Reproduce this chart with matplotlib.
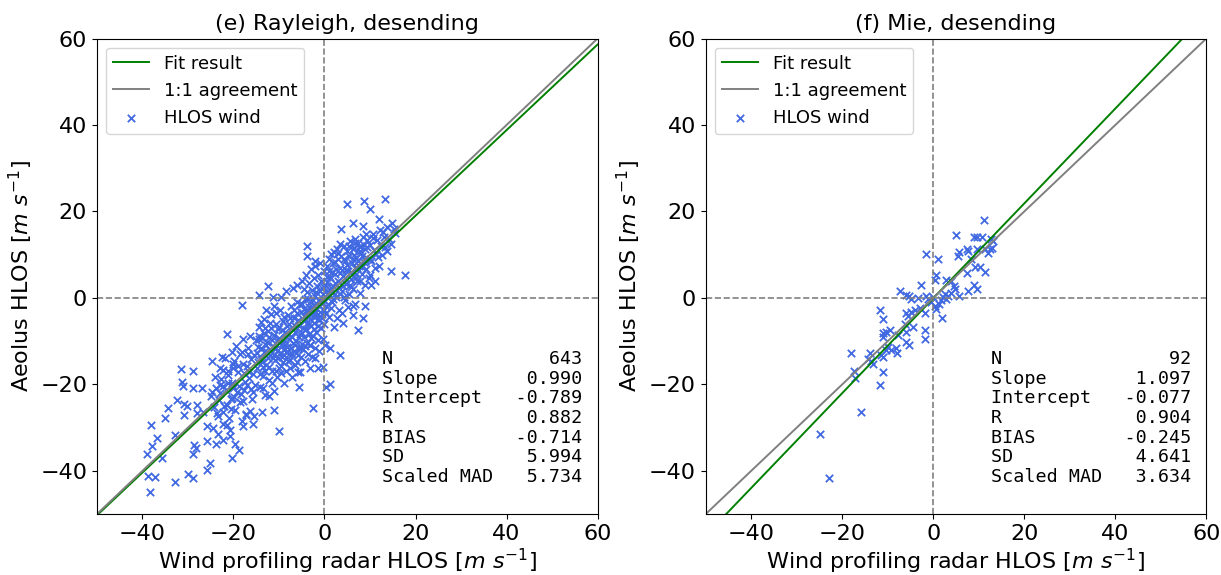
import numpy as np
import matplotlib
matplotlib.use("Agg")
import matplotlib.pyplot as plt

# fit statistics as printed on the panels
ray_stats = [("N", "643"), ("Slope", "0.990"), ("Intercept", "-0.789"), ("R", "0.882"),
             ("BIAS", "-0.714"), ("SD", "5.994"), ("Scaled MAD", "5.734")]
mie_stats = [("N", "92"), ("Slope", "1.097"), ("Intercept", "-0.077"), ("R", "0.904"),
             ("BIAS", "-0.245"), ("SD", "4.641"), ("Scaled MAD", "3.634")]
ray_slope, ray_intercept = 0.990, -0.789
mie_slope, mie_intercept = 1.097, -0.077

# Rayleigh points (radar, aeolus), outliers first then the core
ray_pts = [
    (5.0, 21.8), (8.7, 22.5), (13.3, 22.8), (10.1, 20.5), (11.9, 18.3), (14.9, 17.4), (6.3, 17.4),
    (8.5, 16.6), (3.7, 15.9), (9.2, 14.7), (12.9, 15.3), (15.5, 14.9), (6.7, 13.6), (10.7, 13.9),
    (6.3, 11.3), (7.8, 12.0), (13.8, 10.9), (11.4, 10.1), (9.9, 9.0), (14.6, 6.3), (17.7, 5.3),
    (10.3, 3.0), (8.9, -1.8), (6.3, -1.8), (8.4, -4.7), (7.4, -7.5), (4.1, -5.7), (3.4, -13.1),
    (1.2, -11.5), (1.2, -20.0), (0.3, -20.5), (-2.5, -25.5), (-3.8, 11.9), (-3.8, 9.6), (-2.1, 8.6),
    (-12.4, 2.7), (-14.4, 0.7), (-11.3, 0.2), (-18.2, -1.6), (-21.5, -8.3), (-16.4, -8.7),
    (-24.8, -14.6), (-20.4, -12.6), (-22.6, -13.6), (-31.6, -16.5), (-29.0, -17.0), (-31.4, -19.4),
    (-31.2, -20.3), (-28.9, -20.8), (-27.0, -20.8), (-32.4, -23.6), (-30.9, -24.6), (-34.4, -25.4),
    (-35.1, -27.8), (-30.9, -27.0), (-28.1, -26.7), (-32.9, -31.6), (-38.2, -29.5), (-36.7, -32.4),
    (-39.1, -36.2), (-37.8, -34.3), (-35.8, -37.0), (-38.8, -41.2), (-37.2, -41.4), (-38.4, -44.8),
    (-32.9, -42.6), (-30.0, -40.8), (-29.0, -41.6), (-25.9, -39.9), (-25.2, -38.2), (-29.0, -36.2),
    (-28.3, -34.7), (-28.6, -34.0), (-25.9, -33.2), (-23.9, -33.8), (-22.3, -32.8), (-20.8, -32.0),
    (-20.4, -37.0), (-19.7, -33.9), (-18.8, -35.1), (-17.9, -29.7), (-15.8, -29.2), (-13.8, -26.4),
    (-11.1, -25.9), (-10.1, -30.7), (-17.3, -27.0), (-21.5, -29.5), (-25.9, -29.7), (-26.7, -26.3),
    (-30.2, -25.0), (-28.1, -24.8), (-22.3, -26.3), (-20.4, -23.2), (-24.8, -21.7), (-23.0, -20.2),
    (-22.4, -16.7), (-21.2, -17.9), (-20.1, -15.2), (-18.2, -12.5), (-20.4, -20.2), (-16.6, -17.1),
    (-17.1, -20.2), (-15.7, -21.7), (-12.2, -22.8), (-13.5, -20.9), (-18.6, -24.1), (-5.6, -20.5),
    (-5.8, -17.1), (-3.2, -16.3), (-1.4, -16.3), (-0.3, -15.9), (-2.1, -14.0), (-3.2, -11.0),
    (0.1, -11.0), (-5.1, -11.7),
    # x between -25 and -15
    (-24.6, -30.1), (-24.2, -25.3), (-23.8, -20.9), (-23.5, -27.4), (-23.1, -23.6), (-22.7, -18.8),
    (-22.4, -29.2), (-22.0, -25.1), (-21.7, -21.4), (-21.3, -16.9), (-21.0, -27.8), (-20.6, -23.3),
    (-20.3, -19.7), (-19.9, -14.6), (-19.6, -25.9), (-19.2, -21.8), (-18.9, -17.2), (-18.5, -12.9),
    (-18.2, -28.4), (-17.8, -23.9), (-17.5, -19.4), (-17.1, -15.8), (-16.8, -11.7), (-16.4, -26.2),
    (-16.1, -21.1), (-15.7, -17.6), (-15.4, -13.3), (-15.1, -9.8), (-24.9, -22.7), (-23.3, -31.5),
    (-21.9, -13.9), (-20.8, -30.6), (-19.4, -11.2), (-18.7, -20.3), (-17.9, -9.4), (-17.3, -26.8),
    (-16.6, -18.5), (-15.9, -23.4), (-15.3, -20.1), (-24.1, -18.2), (-22.9, -22.1), (-21.5, -24.7),
    (-20.1, -16.1), (-18.0, -15.3), (-16.2, -14.1), (-15.6, -27.3), (-19.8, -22.9), (-17.6, -21.2),
    (-23.7, -26.6), (-20.5, -25.8), (-16.9, -13.0), (-17.7, -17.3), (-18.4, -22.2), (-19.1, -15.7),
    (-20.0, -20.9), (-21.2, -19.6), (-22.2, -20.4), (-23.0, -16.3),
    # x between -15 and -5
    (-14.8, -16.2), (-14.6, -11.4), (-14.4, -6.8), (-14.2, -20.7), (-14.0, -14.1), (-13.8, -9.3),
    (-13.6, -18.0), (-13.4, -12.6), (-13.2, -4.9), (-13.0, -22.4), (-12.8, -15.5), (-12.6, -10.2),
    (-12.4, -7.6), (-12.2, -19.1), (-12.0, -13.3), (-11.8, -3.8), (-11.6, -16.8), (-11.4, -11.1),
    (-11.2, -8.5), (-11.0, -21.6), (-10.8, -14.4), (-10.6, -6.1), (-10.4, -18.3), (-10.2, -12.0),
    (-10.0, -9.2), (-9.8, -2.7), (-9.6, -15.7), (-9.4, -10.6), (-9.2, -5.3), (-9.0, -19.8),
    (-8.8, -13.2), (-8.6, -7.9), (-8.4, -16.9), (-8.2, -11.4), (-8.0, -3.9), (-7.8, -9.6),
    (-7.6, -14.3), (-7.4, -1.8), (-7.2, -18.4), (-7.0, -7.1), (-6.8, -12.2), (-6.6, -4.6),
    (-6.4, -15.5), (-6.2, -9.9), (-6.0, -0.9), (-5.8, -13.1), (-5.6, -6.4), (-5.4, -17.2),
    (-5.2, -3.2), (-5.0, -10.7), (-14.9, -12.8), (-14.1, -17.5), (-13.3, -8.1), (-12.5, -13.9),
    (-11.7, -6.9), (-10.9, -11.9), (-10.1, -16.3), (-9.3, -7.4), (-8.5, -12.5), (-7.7, -6.0),
    (-6.9, -10.4), (-6.1, -14.9), (-5.3, -8.3), (-14.5, -8.7), (-13.7, -14.8), (-12.9, -11.0),
    (-12.1, -16.0), (-11.3, -14.0), (-10.5, -9.9), (-9.7, -12.7), (-8.9, -9.9), (-8.1, -14.7),
    (-7.3, -11.6), (-6.5, -8.0), (-5.7, -11.5), (-13.9, -11.6), (-12.3, -9.0), (-11.5, -19.7),
    (-10.7, -3.6), (-9.9, -6.8), (-9.1, -14.9), (-8.3, -6.4), (-7.5, -16.1), (-6.7, -2.9),
    (-5.9, -5.0), (-5.1, -13.6), (-11.9, -12.1), (-10.3, -13.8), (-8.7, -10.8), (-7.1, -9.0),
    (-6.3, -12.8), (-13.1, -17.0), (-9.5, -17.4), (-14.7, -14.9), (-14.3, -9.6), (-13.5, -15.9),
    (-13.0, -7.0), (-12.7, -12.4), (-12.0, -5.8), (-11.6, -9.7), (-11.1, -13.2), (-10.6, -16.9),
    (-10.2, -7.3), (-9.8, -10.3), (-9.4, -13.6), (-9.0, -4.4), (-8.6, -11.9), (-8.2, -8.4),
    (-7.9, -13.0), (-7.5, -4.6), (-7.1, -12.9), (-6.8, -6.2), (-6.4, -10.9), (-6.0, -3.6),
    (-5.6, -9.0), (-5.3, -1.5), (-14.0, -5.5), (-12.8, -2.9), (-11.0, -1.8), (-9.6, 0.2),
    (-8.4, 1.6), (-7.0, 2.4), (-6.0, 3.1),
    # x between -5 and 0
    (-4.9, -1.4), (-4.8, -6.9), (-4.7, -11.8), (-4.6, 2.1), (-4.5, -4.3), (-4.4, -9.1), (-4.3, -14.6),
    (-4.2, -0.2), (-4.1, -7.3), (-4.0, -3.1), (-3.9, -10.4), (-3.8, 1.3), (-3.7, -5.6), (-3.6, -12.9),
    (-3.5, -2.2), (-3.4, -8.4), (-3.3, 3.4), (-3.2, -4.8), (-3.1, -10.9), (-3.0, -0.8), (-2.9, -6.6),
    (-2.8, -13.7), (-2.7, 1.9), (-2.6, -3.6), (-2.5, -8.9), (-2.4, 4.6), (-2.3, -1.7), (-2.2, -5.9),
    (-2.1, -11.6), (-2.0, 0.5), (-1.9, -4.1), (-1.8, -7.8), (-1.7, 2.8), (-1.6, -2.6), (-1.5, -9.7),
    (-1.4, 5.3), (-1.3, -0.4), (-1.2, -5.2), (-1.1, -12.3), (-1.0, 1.6), (-0.9, -3.3), (-0.8, -7.0),
    (-0.7, 3.9), (-0.6, -1.2), (-0.5, -4.7), (-0.4, -9.4), (-0.3, 0.9), (-0.2, -2.9), (-0.1, 6.2),
    (0.0, -6.1), (-4.4, -2.5), (-3.6, -0.3), (-2.8, -2.0), (-2.0, -3.4), (-1.2, -1.9), (-0.4, -0.6),
    (-3.9, -4.0), (-2.3, -7.2), (-1.0, -4.2), (-0.6, 2.4), (-4.9, -8.1), (-4.6, -5.4),
    (-4.2, -11.2), (-3.8, -2.9), (-3.4, -6.0), (-3.0, -9.3), (-2.6, -0.5), (-2.2, -4.5), (-1.8, 1.3),
    (-1.4, -6.4), (-1.0, -1.0), (-0.6, -3.8), (-0.2, 2.6), (-5.0, 4.0), (-4.0, 5.4), (-3.0, 6.6),
    (-2.0, 7.3), (-1.0, 8.0),
    # x between 0 and 10
    (0.2, 3.1), (0.4, -1.9), (0.6, 7.4), (0.8, 0.6), (1.0, -4.4), (1.2, 4.8), (1.4, 10.1), (1.6, -0.9),
    (1.8, 2.7), (2.0, -6.8), (2.2, 8.3), (2.4, 5.6), (2.6, 0.1), (2.8, 11.2), (3.0, 3.9), (3.2, -2.8),
    (3.4, 7.0), (3.6, 9.7), (3.8, 1.5), (4.0, 5.1), (4.2, 12.0), (4.4, -0.6), (4.6, 8.6), (4.8, 3.3),
    (5.0, 10.8), (5.2, 6.2), (5.4, 0.9), (5.6, 13.1), (5.8, 4.4), (6.0, 8.0), (6.2, 2.1), (6.4, 11.5),
    (6.6, 6.9), (6.8, -1.4), (7.0, 9.3), (7.2, 4.0), (7.4, 12.6), (7.6, 7.4), (7.8, 1.2), (8.0, 10.4),
    (8.2, 5.5), (8.4, 14.0), (8.6, 8.2), (8.8, 3.0), (9.0, 11.3), (9.2, 6.6), (9.4, 13.4), (9.6, 9.1),
    (9.8, 4.7), (10.0, 12.2), (0.5, 4.9), (1.1, 1.8), (1.7, 6.0), (2.3, 3.5), (2.9, 9.0), (3.5, 5.7),
    (4.1, 2.8), (4.7, 6.5), (5.3, 9.8), (5.9, 5.9), (6.5, 9.9), (7.1, 7.0), (7.7, 10.8), (8.3, 7.1),
    (0.9, 8.9), (2.1, 10.6), (3.3, 12.4), (0.3, -3.5), (1.5, -2.4), (2.7, -4.6), (3.9, -3.5),
    (5.1, -2.1), (6.3, -3.9), (0.7, 1.2), (1.9, -0.2), (3.1, 2.3), (4.3, 0.3), (5.5, 3.0), (6.7, 4.5),
    (7.9, 3.9), (0.2, -0.8), (0.6, 3.6), (1.0, 6.2), (1.4, 2.2), (1.8, 8.0), (2.2, 0.9), (2.6, 6.8),
    (3.0, 10.3), (3.4, 1.0), (3.8, 6.4), (4.2, 9.1), (4.6, 4.6), (5.0, 7.6), (5.4, 11.9), (5.8, 2.6),
    (6.2, 9.0), (6.6, 12.8), (7.0, 5.5), (7.4, 8.5), (7.8, 11.7), (8.2, 9.6), (8.6, 12.2),
    (9.0, 8.8), (9.4, 11.8),
    # x above 10
    (10.3, 8.5), (10.6, 14.7), (10.9, 11.0), (11.2, 6.9), (11.5, 13.3), (11.8, 9.4), (12.1, 15.6),
    (12.4, 12.1), (12.7, 10.0), (13.0, 14.2), (13.4, 11.8), (13.8, 16.4), (14.2, 13.6), (14.7, 12.5),
    (15.3, 15.9), (10.1, 5.2), (11.0, 3.9), (12.0, 7.4),
]

# Mie points (radar, aeolus)
mie_pts = [
    (11.2, 18.0), (5.1, 14.5), (9.0, 14.1), (9.7, 14.1), (10.8, 14.1), (-1.5, 10.1), (1.1, 9.0),
    (5.6, 10.7), (5.5, 9.6), (7.5, 11.4), (7.7, 10.9), (9.5, 11.4), (11.4, 11.3), (12.5, 11.3),
    (12.1, 10.5), (12.8, 11.6), (13.2, 13.2), (12.7, 13.6), (9.2, 7.2), (10.3, 7.2), (7.3, 5.7),
    (8.3, 9.0), (0.7, 5.3), (0.4, 4.2), (-2.6, 3.1), (2.9, 4.1), (4.0, 3.8), (4.5, 2.8), (9.0, 3.0),
    (7.7, 1.5), (5.6, 0.5), (4.0, 1.1), (2.6, 0.9), (3.3, 0.5), (2.2, 0.2), (-7.3, 1.5), (-5.9, 0.7),
    (-5.3, 0.5), (-3.3, -0.1), (-1.5, 0.4), (-1.1, -0.2), (-0.4, -1.0), (0.4, -1.8), (1.2, -1.4),
    (1.8, -0.6), (2.0, -4.7), (-1.8, -3.4), (-2.9, -2.4), (-4.0, -2.9), (-4.8, -3.3), (-5.9, -3.4),
    (-5.5, -4.1), (-11.7, -2.9), (-11.1, -4.8), (-6.2, -6.0), (-4.4, -6.7), (-1.8, -7.5),
    (-1.8, -9.6), (-11.0, -8.1), (-10.3, -7.9), (-9.5, -7.5), (-11.1, -9.0), (-5.9, -7.9),
    (-7.7, -8.5), (-5.9, -10.3), (-5.3, -11.0), (-9.9, -11.3), (-9.2, -12.1), (-8.1, -11.7),
    (-7.9, -12.7), (-11.0, -13.6), (-13.9, -12.7), (-18.1, -12.7), (-13.6, -14.6), (-13.2, -15.4),
    (-14.3, -14.2), (-17.4, -16.9), (-17.2, -18.6), (-11.1, -17.1), (-11.7, -20.2), (-15.8, -26.4),
    (-24.8, -31.5), (-22.9, -41.6), (-11.5, -13.3), (-10.3, -12.1), (4.8, 2.1), (9.5, 2.1),
    (11.4, 5.9), (2.9, -0.2), (-4.8, -0.2), (0.0, 0.2), (0.5, -2.5),
]

panels = [
    ("(e) Rayleigh, desending", ray_pts, ray_slope, ray_intercept, ray_stats, 0.0794),
    ("(f) Mie, desending", mie_pts, mie_slope, mie_intercept, mie_stats, 0.578),
]

fig = plt.figure(figsize=(12.21, 5.75), dpi=100)
line_x = np.array([-50, 60])

for title, pts, slope, intercept, stats, left in panels:
    ax = fig.add_axes([left, 0.106, 0.41, 0.827])
    pts = np.array(pts)
    ax.axvline(0, color="gray", ls="--", lw=1.2)
    ax.axhline(0, color="gray", ls="--", lw=1.2)
    ax.plot(line_x, slope * line_x + intercept, color="green", lw=1.4, label="Fit result")
    ax.plot(line_x, line_x, color="gray", lw=1.4, label="1:1 agreement")
    ax.scatter(pts[:, 0], pts[:, 1], marker="x", color="royalblue", s=28, lw=1.3,
               label="HLOS wind")
    ax.set_xlim(-50, 60)
    ax.set_ylim(-50, 60)
    ax.set_xticks([-40, -20, 0, 20, 40, 60])
    ax.set_yticks([-40, -20, 0, 20, 40, 60])
    ax.tick_params(labelsize=16)
    ax.set_title(title, fontsize=16)
    ax.set_xlabel(r"Wind profiling radar HLOS [$m\ s^{-1}$]", fontsize=16, labelpad=2)
    ax.set_ylabel(r"Aeolus HLOS [$m\ s^{-1}$]", fontsize=16)
    ax.legend(loc="upper left", fontsize=13)
    txt = "\n".join(f"{k:<12}{v:>6}" for k, v in stats)
    ax.text(0.57, 0.345, txt, transform=ax.transAxes, va="top", ha="left",
            family="DejaVu Sans Mono", fontsize=13.2, linespacing=1.12)

fig.savefig("out.png", dpi=100)
